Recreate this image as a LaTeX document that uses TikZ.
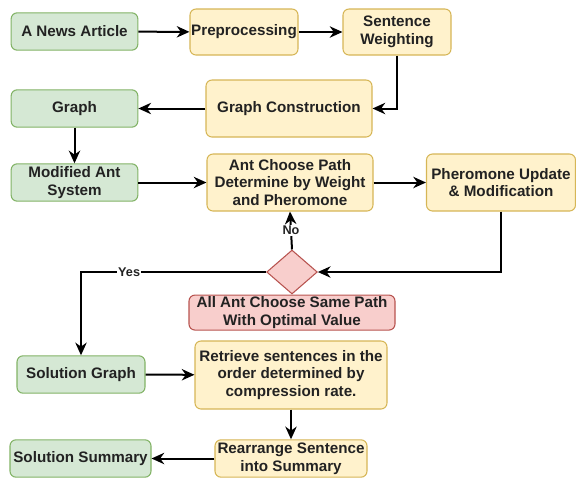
\documentclass[tikz,border=0pt]{standalone}
\usepackage{fontspec}
\setmainfont{Liberation Sans}
\usetikzlibrary{arrows.meta,shapes.geometric}

\definecolor{greenfill}{HTML}{D5E8D4}
\definecolor{greenline}{HTML}{82B366}
\definecolor{yellowfill}{HTML}{FFF2CC}
\definecolor{yellowline}{HTML}{D6B656}
\definecolor{redfill}{HTML}{F8CECC}
\definecolor{redline}{HTML}{B85450}
\definecolor{textgray}{HTML}{222222}

\tikzset{>={Stealth[length=9.5pt,width=8.5pt,inset=3pt]}}

\begin{document}
\begin{tikzpicture}[x=0.75pt,y=-0.75pt]

	\tikzstyle{box} = [rectangle, rounded corners=4.5pt, line width=0.8pt, inner sep=0pt, align=center, text=textgray, font=\fontsize{11.4}{13.2}\selectfont\bfseries]
	\tikzstyle{box_green} = [box, draw=greenline, fill=greenfill]
	\tikzstyle{box_yellow} = [box, draw=yellowline, fill=yellowfill]
	\tikzstyle{box_red} = [box, draw=redline, fill=redfill]
	\tikzstyle{decision} = [diamond, draw=redline, fill=redfill, line width=0.8pt, inner sep=0pt, minimum width=38pt, minimum height=33pt]
	\tikzstyle{flow} = [->, line width=1.5pt, black]
	\tikzstyle{answer} = [fill=white, inner sep=1pt, text=textgray, font=\fontsize{9.5}{11}\selectfont\bfseries]

	\useasboundingbox (0,0) rectangle (576,480);

%------------------------------------------------------------
	\node[box_green, minimum width=95pt, minimum height=28pt] (article) at (74.5,31.5) {A News Article};
	\node[box_yellow, minimum width=81pt, minimum height=34.5pt] (prep) at (244,32) {Preprocessing};
	\node[box_yellow, minimum width=81pt, minimum height=34.5pt] (weight) at (397,32) {Sentence\\Weighting};

%------------------------------------------------------------

	\node[box_green, minimum width=95pt, minimum height=28pt] (graph) at (74.5,108.5) {Graph};
	\node[box_yellow, minimum width=124.5pt, minimum height=42.75pt] (construct) at (289,108.5) {Graph Construction};

%------------------------------------------------------------

	\node[box_green, minimum width=95pt, minimum height=28pt] (mas) at (74.5,182.5) {Modified Ant\\System};
	\node[box_yellow, minimum width=124.5pt, minimum height=42.75pt] (choose) at (290,182.5) {Ant Choose Path\\Determine by Weight\\and Pheromone};
	\node[box_yellow, minimum width=111.75pt, minimum height=42.75pt] (update) at (501,182.5) {Pheromone Update\\\& Modification};

%------------------------------------------------------------

	\node[decision] (check) at (292,272) {};
	\node[box_red, minimum width=154.5pt, minimum height=26.25pt, anchor=north] (same) at (check.south) {All Ant Choose Same Path\\With Optimal Value};

%------------------------------------------------------------

	\node[box_green, minimum width=96pt, minimum height=28pt] (solgraph) at (81,374.5) {Solution Graph};
	\node[box_yellow, minimum width=144pt, minimum height=51pt] (retrieve) at (291,375) {Retrieve sentences in the\\order determined by\\compression rate.};

%------------------------------------------------------------

	\node[box_green, minimum width=105.75pt, minimum height=28pt] (solsum) at (80.5,458.5) {Solution Summary};
	\node[box_yellow, minimum width=114pt, minimum height=28pt] (rearrange) at (291,458.5) {Rearrange Sentence\\into Summary};

%------------------------------------------------------------

	\draw[flow] (article) -- (prep);
	\draw[flow] (prep) -- (weight);
	\draw[flow] (weight.south) |- (construct.east);
	\draw[flow] (construct) -- (graph);
	\draw[flow] (graph) -- (mas);
	\draw[flow] (mas) -- (choose);
	\draw[flow] (choose) -- (update);
	\draw[flow] (update.south) |- (check.east);
	\draw[flow] (check.north) -- node[answer] {No} (choose.south);
	\draw[flow] (check.west) -| node[answer, pos=0.37] {Yes} (solgraph.north);
	\draw[flow] (solgraph) -- (retrieve);
	\draw[flow] (retrieve) -- (rearrange);
	\draw[flow] (rearrange) -- (solsum);

\end{tikzpicture}
\end{document}
